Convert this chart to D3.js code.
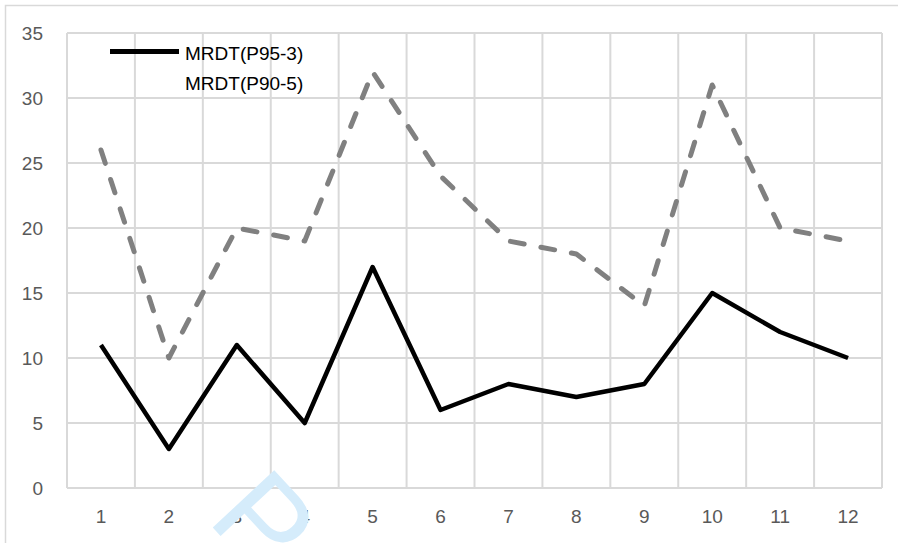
<!DOCTYPE html>
<html>
<head>
<meta charset="utf-8">
<script src="https://cdn.jsdelivr.net/npm/d3@7"></script>
<style>
  html, body { margin: 0; padding: 0; background: #fff; }
  svg { display: block; }
  text { font-family: "Liberation Sans", Arial, sans-serif; }
</style>
</head>
<body>
<svg id="chart" width="898" height="543"></svg>
<script>
// Monthly values for the two MRDT series
const categories = [1, 2, 3, 4, 5, 6, 7, 8, 9, 10, 11, 12];
const mrdtP95 = [11, 3, 11, 5, 17, 6, 8, 7, 8, 15, 12, 10];
const mrdtP90 = [26, 10, 20, 19, 32, 24, 19, 18, 14, 31, 20, 19];
const seriesNames = ["MRDT(P95-3)", "MRDT(P90-5)"];
const yTicks = [0, 5, 10, 15, 20, 25, 30, 35];

const W = 898, H = 543;
const margin = { left: 67, right: 16, top: 33, bottom: 55 };
const svg = d3.select("#chart");

// outer chart frame
svg.append("path")
  .attr("d", `M5.5,${H} V5.5 H${W}`)
  .attr("fill", "none")
  .attr("stroke", "#d9d9d9")
  .attr("stroke-width", 1.5);

const x = d3.scaleBand()
  .domain(categories)
  .range([margin.left, W - margin.right]);

const y = d3.scaleLinear()
  .domain([0, 35])
  .range([H - margin.bottom, margin.top]);

const grid = svg.append("g").attr("stroke", "#d9d9d9").attr("stroke-width", 2);

// horizontal gridlines
grid.selectAll("line.h")
  .data(yTicks)
  .join("line")
  .attr("class", "h")
  .attr("x1", margin.left)
  .attr("x2", W - margin.right)
  .attr("y1", d => y(d))
  .attr("y2", d => y(d));

// vertical gridlines at category boundaries
const bounds = categories.map(c => x(c)).concat([x(categories[categories.length - 1]) + x.bandwidth()]);
grid.selectAll("line.v")
  .data(bounds)
  .join("line")
  .attr("class", "v")
  .attr("x1", d => d)
  .attr("x2", d => d)
  .attr("y1", y(35))
  .attr("y2", y(0));

// y axis labels
const yAxis = d3.axisLeft(y).tickValues(yTicks).tickSize(0).tickPadding(24);
svg.append("g")
  .attr("transform", `translate(${margin.left},0)`)
  .call(yAxis)
  .call(g => g.select(".domain").remove())
  .call(g => g.selectAll("text")
    .attr("fill", "#595959")
    .attr("font-size", 19)
    .attr("font-family", "'Liberation Sans', Arial, sans-serif"));

// x axis labels
const xAxis = d3.axisBottom(x).tickSize(0).tickPadding(22);
svg.append("g")
  .attr("transform", `translate(0,${y(0)})`)
  .call(xAxis)
  .call(g => g.select(".domain").remove())
  .call(g => g.selectAll("text")
    .attr("fill", "#595959")
    .attr("font-size", 19)
    .attr("font-family", "'Liberation Sans', Arial, sans-serif"));

const line = d3.line()
  .x((d, i) => x(categories[i]) + x.bandwidth() / 2)
  .y(d => y(d));

// dashed grey series
svg.append("path")
  .datum(mrdtP90)
  .attr("d", line)
  .attr("fill", "none")
  .attr("stroke", "#808080")
  .attr("stroke-width", 5)
  .attr("stroke-linecap", "round")
  .attr("stroke-linejoin", "round")
  .attr("stroke-dasharray", "14,17");

// solid black series
svg.append("path")
  .datum(mrdtP95)
  .attr("d", line)
  .attr("fill", "none")
  .attr("stroke", "#000")
  .attr("stroke-width", 4.5)
  .attr("stroke-linejoin", "round");

// legend
const legend = svg.append("g");
legend.append("line")
  .attr("x1", 110).attr("x2", 179)
  .attr("y1", 51.5).attr("y2", 51.5)
  .attr("stroke", "#000")
  .attr("stroke-width", 5);
legend.selectAll("text")
  .data(seriesNames)
  .join("text")
  .attr("x", 185)
  .attr("y", (d, i) => 60 + i * 30)
  .attr("fill", "#000")
  .attr("font-size", 19)
  .text(d => d);

// watermark
svg.append("text")
  .attr("transform", "translate(266,520) rotate(47)")
  .attr("text-anchor", "middle")
  .attr("y", 44)
  .attr("font-size", 122)
  .attr("font-family", "'DejaVu Sans', sans-serif")
  .attr("font-weight", "normal")
  .attr("fill", "#d5ecfb")
  .text("P");
</script>
</body>
</html>
